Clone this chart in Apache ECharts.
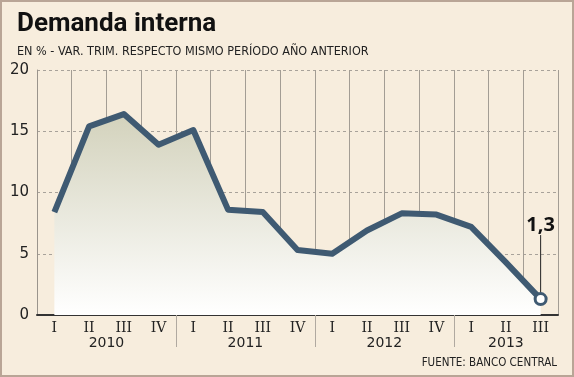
<!DOCTYPE html>
<html>
<head>
<meta charset="utf-8" />
<title>Demanda interna</title>
<script src="https://cdn.jsdelivr.net/npm/echarts@6/dist/echarts.min.js"></script>
</head>
<body style="margin:0; background:#f7eddd">
<div id="container" style="width:574px; height:377px; position:relative"></div>
<div style="position:absolute; left:0; top:0; width:574px; height:377px; box-sizing:border-box; border:2px solid #b9a596; pointer-events:none"></div>
<script>
    // trimestres y valores (var. % interanual)
    var quarters = ["I", "II", "III", "IV", "I", "II", "III", "IV", "I", "II", "III", "IV", "I", "II", "III"];
    var values = [8.4, 15.4, 16.4, 13.9, 15.1, 8.6, 8.4, 5.3, 5.0, 6.9, 8.3, 8.2, 7.2, 4.3, 1.3];
    var years = ["2010", "2011", "2012", "2013"];
    // posicion de cada año en el eje auxiliar (medios trimestres)
    var yearSlots = [4, 12, 20, 27];
    var yearBreaks = [8, 16, 24];

    var halfSlots = [];
    for (var i = 0; i <= 30; i++) {
        var k = yearSlots.indexOf(i);
        halfSlots.push(k >= 0 ? years[k] : "");
    }

    var dom = document.getElementById("container");
    var myChart = echarts.init(dom, null, { renderer: "canvas" });
    var lineColor = "#3f5a72";

    var seriesData = values.map(function (v, i) {
        if (i === values.length - 1) {
            return {
                value: v,
                symbol: "circle",
                symbolSize: 11,
                itemStyle: { color: "#ffffff", borderColor: lineColor, borderWidth: 3 },
                label: {
                    show: true,
                    position: "top",
                    formatter: function (p) { return String(p.value).replace(".", ","); },
                    fontFamily: "Noto Sans",
                    fontWeight: "bold",
                    fontSize: 20,
                    color: "#111"
                },
                labelLine: { show: true, lineStyle: { color: "#222", width: 1 } }
            };
        }
        return v;
    });

    var option = {
        backgroundColor: "#f7eddd",
        animation: false,
        title: [
            {
                text: "Demanda interna",
                left: 12,
                top: 6,
                textStyle: { fontFamily: "Roboto", fontWeight: "bold", fontSize: 26, color: "#111" }
            },
            {
                text: "EN % - VAR. TRIM. RESPECTO MISMO PERÍODO AÑO ANTERIOR",
                left: 12,
                top: 40,
                textStyle: { fontFamily: "DejaVu Sans Condensed, DejaVu Sans", fontWeight: "normal", fontSize: 12.5, color: "#222" }
            },
            {
                text: "FUENTE: BANCO CENTRAL",
                right: 12,
                top: 352,
                textStyle: { fontFamily: "DejaVu Sans Condensed, DejaVu Sans", fontWeight: "normal", fontSize: 11.5, color: "#222" }
            }
        ],
        grid: { left: 37, right: 16, top: 70, bottom: 62 },
        xAxis: [
            {
                type: "category",
                data: quarters,
                boundaryGap: true,
                axisLine: { lineStyle: { color: "#333", width: 2 } },
                axisTick: { show: false },
                axisLabel: { margin: 6, fontFamily: "DejaVu Serif", fontSize: 14, color: "#222" },
                splitLine: { show: true, lineStyle: { color: "#a39d94", width: 1 } }
            },
            {
                type: "category",
                data: halfSlots,
                position: "bottom",
                boundaryGap: false,
                axisLine: { show: false },
                axisTick: {
                    show: true,
                    length: 32,
                    interval: function (idx) { return yearBreaks.indexOf(idx) >= 0; },
                    lineStyle: { color: "#b0a9a0" }
                },
                axisLabel: {
                    margin: 21,
                    interval: 0,
                    fontFamily: "DejaVu Sans",
                    fontSize: 14,
                    color: "#222"
                }
            }
        ],
        yAxis: {
            type: "value",
            min: 0,
            max: 20,
            interval: 5,
            axisLine: { show: true, lineStyle: { color: "#9a948c" } },
            axisTick: { show: false },
            axisLabel: { margin: 8, fontFamily: "DejaVu Sans", fontSize: 15, color: "#222" },
            splitLine: { lineStyle: { color: "#a8a29a", type: [3, 3] } }
        },
        series: [
            {
                type: "line",
                data: seriesData,
                xAxisIndex: 0,
                symbol: "none",
                lineStyle: { color: lineColor, width: 6, join: "round" },
                areaStyle: {
                    opacity: 1,
                    color: new echarts.graphic.LinearGradient(0, 0, 0, 1, [
                        { offset: 0, color: "#d3d2bc" },
                        { offset: 1, color: "#ffffff" }
                    ])
                },
                labelLayout: function (p) {
                    return p.dataIndex === values.length - 1 ? { dy: -52 } : {};
                },
                z: 3
            }
        ]
    };
    myChart.setOption(option);
</script>
</body>
</html>
